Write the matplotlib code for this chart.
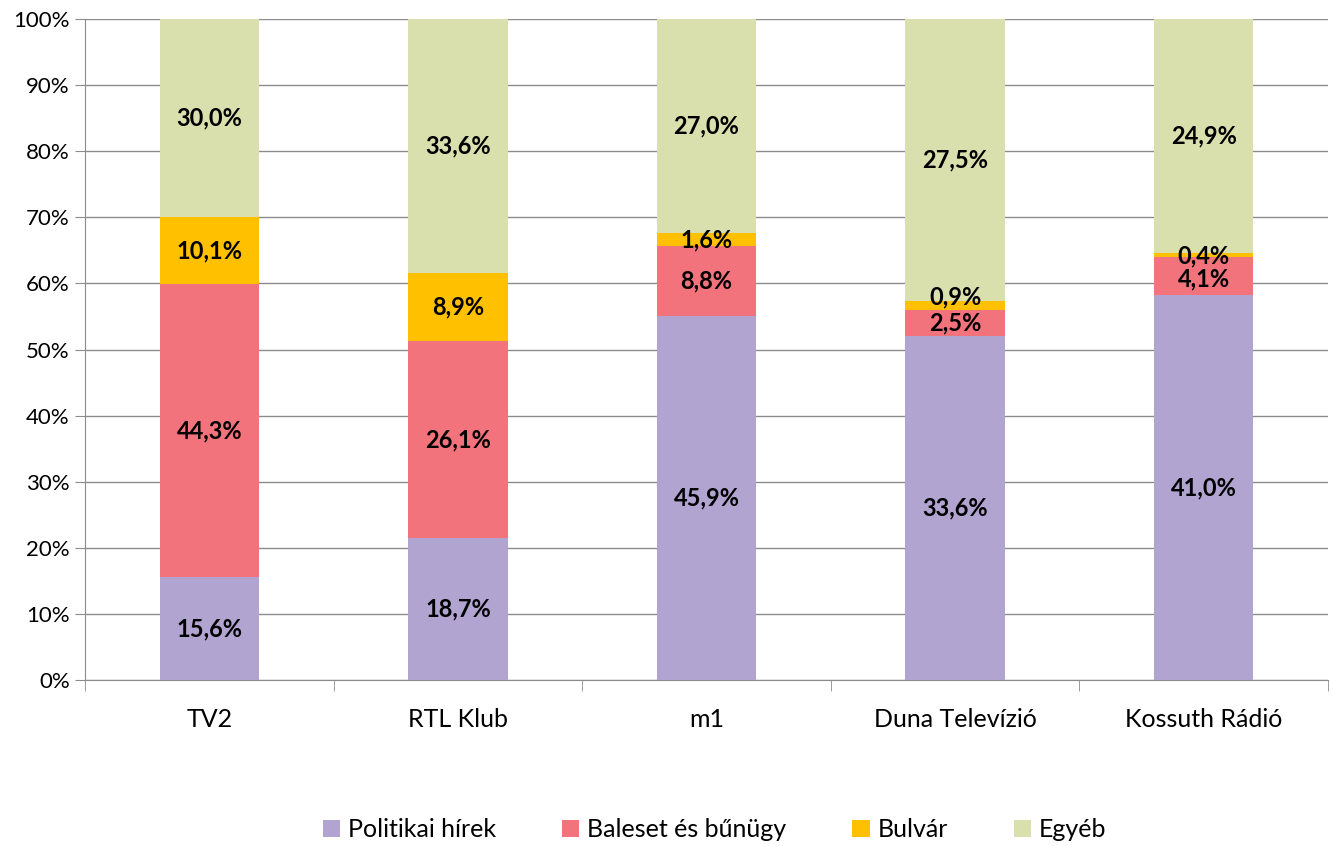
import matplotlib.pyplot as plt
import numpy as np

plt.rcParams['font.family'] = ['Lato', 'DejaVu Sans']

channels = ['TV2', 'RTL Klub', 'm1', 'Duna Televízió', 'Kossuth Rádió']
series = ['Politikai hírek', 'Baleset és bűnügy', 'Bulvár', 'Egyéb']
politikai = [15.6, 18.7, 45.9, 33.6, 41.0]
baleset = [44.3, 26.1, 8.8, 2.5, 4.1]
bulvar = [10.1, 8.9, 1.6, 0.9, 0.4]
egyeb = [30.0, 33.6, 27.0, 27.5, 24.9]
colors = ['#B1A4D0', '#F3737D', '#FFC000', '#D9DFAD']

# labels that Excel pushed aside to avoid overlap: (series, channel) -> points
nudge = {(2, 3): 6, (2, 4): -1, (1, 4): -2}

data = np.array([politikai, baleset, bulvar, egyeb])
shares = data / data.sum(axis=0) * 100

fig = plt.figure(figsize=(13.33, 8.46), dpi=100)
ax = fig.add_axes([0.0638, 0.1962, 0.9324, 0.7813])

x = np.arange(len(channels))
bottom = np.zeros(len(channels))
for i in range(len(series)):
    ax.bar(x, shares[i], 0.4, bottom=bottom, color=colors[i], label=series[i], zorder=3)
    for j in range(len(channels)):
        lbl = ('%.1f%%' % data[i, j]).replace('.', ',')
        ax.annotate(lbl, (x[j], bottom[j] + shares[i, j] / 2),
                    xytext=(0, nudge.get((i, j), 0)), textcoords='offset points',
                    ha='center', va='center', fontsize=17, fontweight='bold', zorder=4)
    bottom += shares[i]

ax.set_xlim(-0.5, len(channels) - 0.5)
ax.set_ylim(0, 100)
ax.set_yticks(np.arange(0, 101, 10))
ax.set_yticklabels(['%d%%' % v for v in range(0, 101, 10)], fontsize=16)
ax.yaxis.grid(True, color='#8C8C8C', linewidth=1, zorder=0)
ax.set_xticks(x)
ax.set_xticklabels(channels, fontsize=18)
ax.tick_params(axis='x', length=0, pad=20)
ax.set_xticks(np.arange(-0.5, len(channels)), minor=True)
ax.tick_params(axis='x', which='minor', length=8, color='#8C8C8C')
ax.tick_params(axis='y', length=7, color='#8C8C8C', pad=4)
for s in ['top', 'right']:
    ax.spines[s].set_visible(False)
for s in ['left', 'bottom']:
    ax.spines[s].set_color('#8C8C8C')

fig.legend(loc='center', bbox_to_anchor=(0.536, 0.019), ncol=4, frameon=False,
           fontsize=18, handlelength=0.7, handleheight=0.7, columnspacing=2.65,
           handletextpad=0.3)

fig.savefig('out.png', dpi=100)
